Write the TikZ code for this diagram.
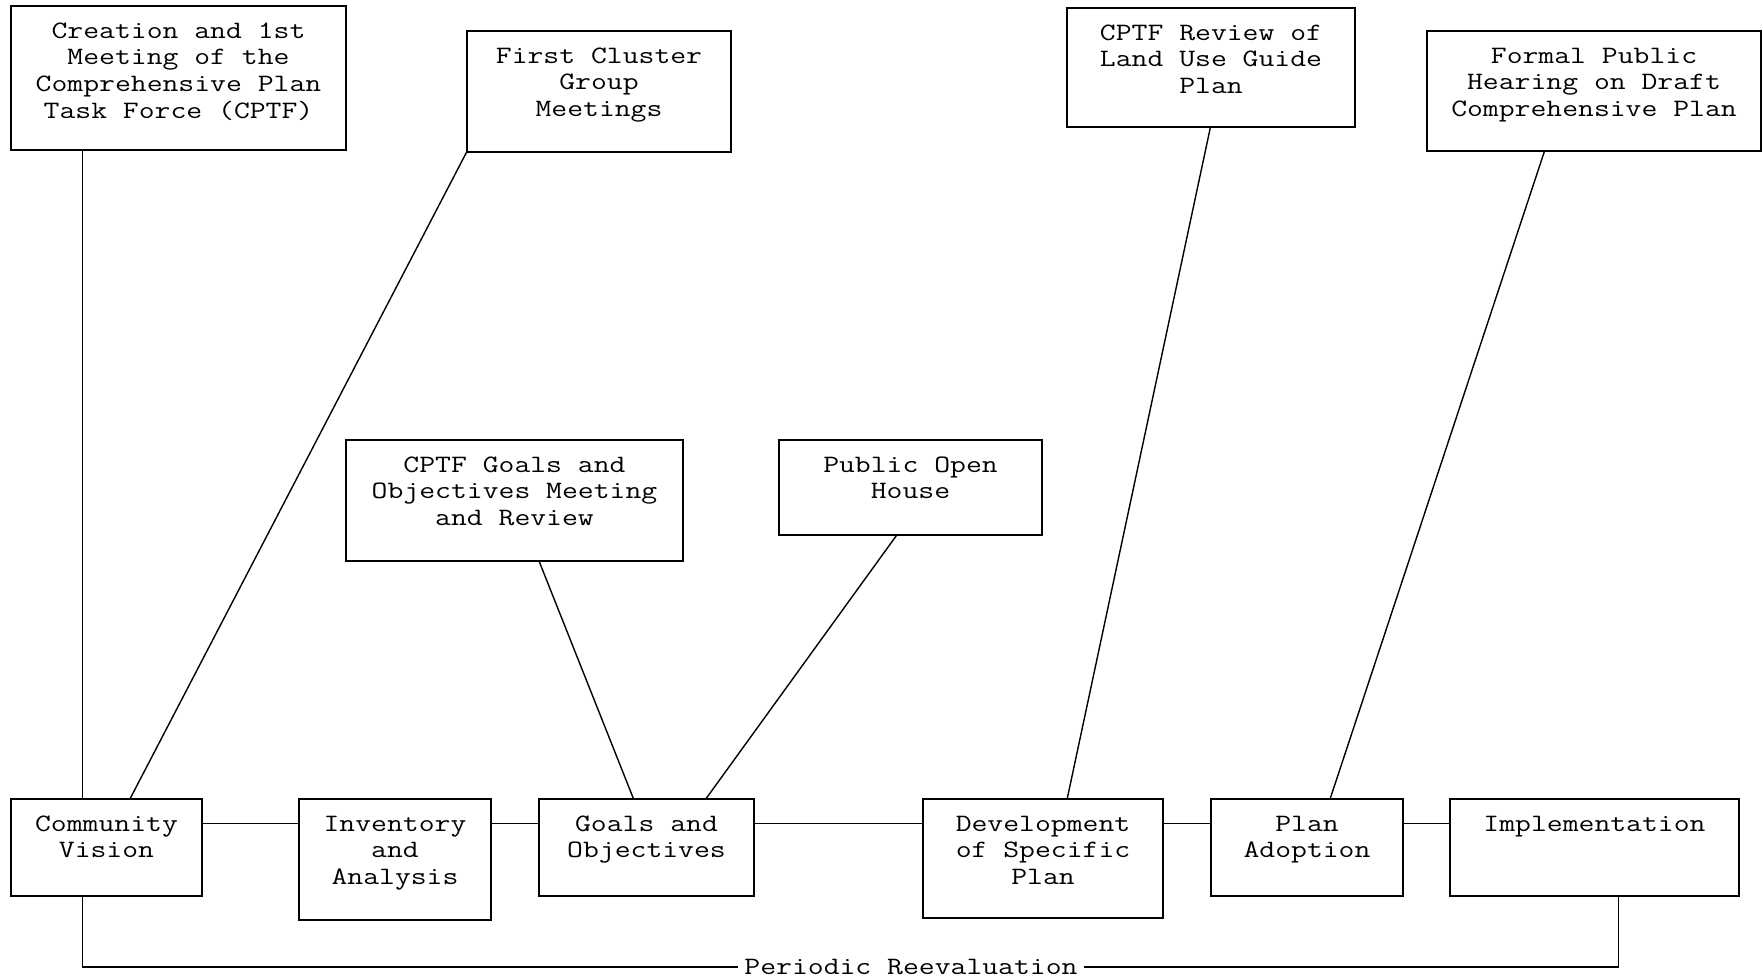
\documentclass[tikz,border=0pt]{standalone}
\usepackage{fontspec}
\setmonofont{Latin Modern Mono}[FakeStretch=1.232]
\usetikzlibrary{fit,calc}
\tikzset{
  boxst/.style={draw, line width=0.7pt, inner sep=0pt, fit={#1}},
  txt/.style={anchor=north, inner sep=0pt, align=center, font=\ttfamily\fontsize{12.5}{13.35}\selectfont},
  conn/.style={line width=0.7pt},
  lbl/.style={inner xsep=3pt, inner ysep=0pt, font=\ttfamily\fontsize{12.5}{13.35}\selectfont}
}
\newcommand\boxnode[6]{%
  \node[boxst={(#2,#3) (#4,#5)}] (#1) {};
  \node[txt] (#1-t) at ($(#1.north)+(0,12.5)$) {\rule{0pt}{10pt}#6};
}
\begin{document}
\begin{tikzpicture}[x=0.5pt,y=-0.5pt]
\useasboundingbox (0,0) rectangle (1763,979);
\boxnode{A}{11}{6}{346}{150}{Creation and 1st\\Meeting of the\\Comprehensive Plan\\Task Force (CPTF)}
\boxnode{B}{467}{31}{731}{152}{First Cluster\\Group\\Meetings}
\boxnode{C}{1067}{8}{1355}{127}{CPTF Review of\\Land Use Guide\\Plan}
\boxnode{D}{1427}{31}{1761}{151}{Formal Public\\Hearing on Draft\\Comprehensive Plan}
\boxnode{E}{346}{440}{683}{561}{CPTF Goals and\\Objectives Meeting\\and Review}
\boxnode{F}{779}{440}{1042}{535}{Public Open\\House}
\boxnode{cv}{11}{799}{202}{896}{Community\\Vision}
\boxnode{inv}{299}{799}{491}{920}{Inventory\\and\\Analysis}
\boxnode{goals}{539}{799}{754}{896}{Goals and\\Objectives}
\boxnode{dev}{923}{799}{1163}{918}{Development\\of Specific\\Plan}
\boxnode{adopt}{1211}{799}{1403}{896}{Plan\\Adoption}
\boxnode{impl}{1450}{799}{1739}{896}{Implementation}
% horizontal chain
\draw[conn] ($(cv.north east)+(0,25)$) -- ($(inv.north west)+(0,25)$);
\draw[conn] ($(inv.north east)+(0,25)$) -- ($(goals.north west)+(0,25)$);
\draw[conn] ($(goals.north east)+(0,25)$) -- ($(dev.north west)+(0,25)$);
\draw[conn] ($(dev.north east)+(0,25)$) -- ($(adopt.north west)+(0,25)$);
\draw[conn] ($(adopt.north east)+(0,25)$) -- ($(impl.north west)+(0,25)$);
% upper connectors
\draw[conn] ($(A.south west)+(72,0)$) -- ($(cv.north west)+(72,0)$);
\draw[conn] (B.south west) -- ($(cv.north west)+(120,0)$);
\draw[conn] ($(E.south west)+(194,0)$) -- ($(goals.north west)+(95,0)$);
\draw[conn] ($(F.south west)+(118,0)$) -- ($(goals.north west)+(168,0)$);
\draw[conn] ($(C.south west)+(144,0)$) -- ($(dev.north west)+(145,0)$);
\draw[conn] ($(D.south west)+(118,0)$) -- ($(adopt.north west)+(120,0)$);
% periodic reevaluation
\node[lbl] (pr) at (911,967) {Periodic Reevaluation};
\draw[conn] ($(cv.south west)+(72,0)$) |- (pr.west);
\draw[conn] (pr.east) -| ($(impl.south west)+(169,0)$);
\end{tikzpicture}
\end{document}
